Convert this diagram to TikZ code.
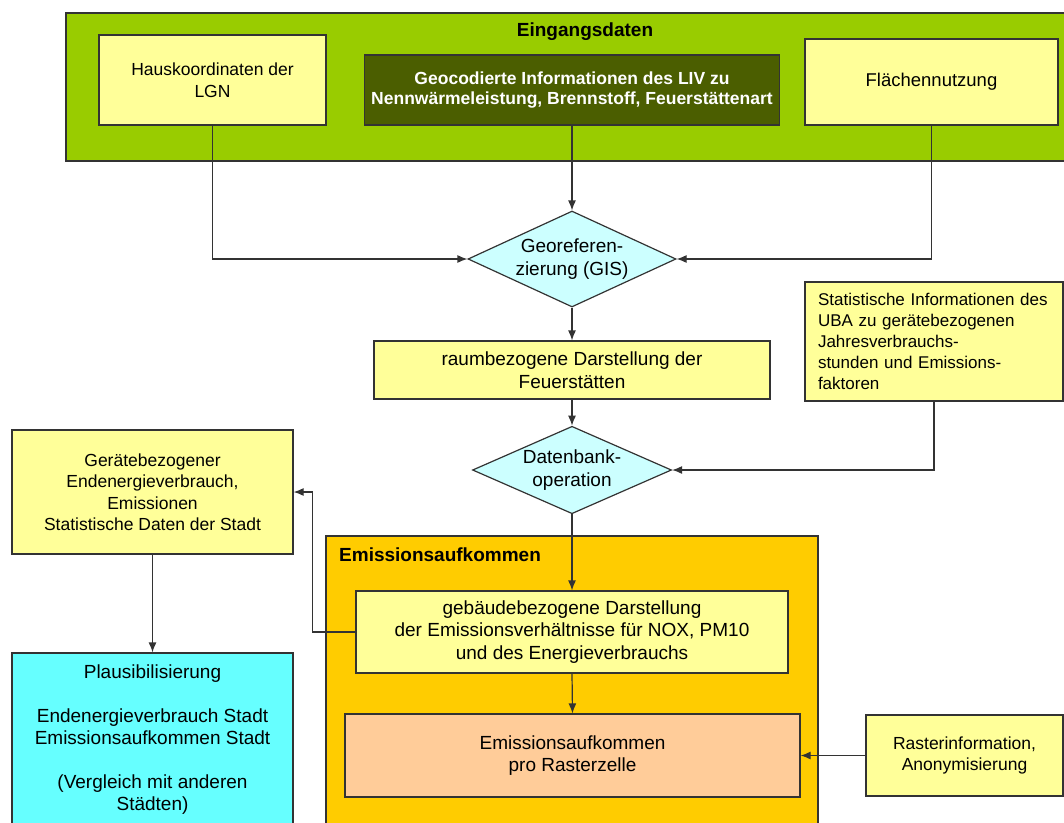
\documentclass[tikz,border=0pt]{standalone}
\usepackage{fontspec}
\setmainfont{Liberation Sans}
\usepackage{tikz}
\usetikzlibrary{positioning,shapes.geometric,arrows.meta}

\definecolor{eingangsgruen}{HTML}{99CC00}
\definecolor{livgruen}{HTML}{4B5E00}
\definecolor{hellgelb}{HTML}{FFFF99}
\definecolor{hellcyan}{HTML}{CCFFFF}
\definecolor{plausicyan}{HTML}{66FFFF}
\definecolor{emisorange}{HTML}{FFCC00}
\definecolor{pfirsich}{HTML}{FFCC99}
\definecolor{linie}{HTML}{333333}

\tikzset{
  kasten/.style={draw=linie, line width=1.2pt, fill=hellgelb, inner sep=0pt, align=center,
    font=\fontsize{17.5}{21.5}\selectfont},
  grosskasten/.style={kasten, font=\fontsize{19}{22.5}\selectfont},
  raute/.style={diamond, draw=linie, line width=1.2pt, fill=hellcyan, inner sep=0pt, aspect=2.1,
    align=center, font=\fontsize{19}{23}\selectfont},
  rahmen/.style={draw=linie, line width=1.2pt},
  titel/.style={inner sep=0pt, font=\fontsize{19}{23}\selectfont\bfseries},
  pfeil/.style={draw=linie, line width=1.2pt, -{Latex[length=10pt,width=8pt]}}
}

\begin{document}
\begin{tikzpicture}[x=1pt, y=-1pt]
      \useasboundingbox (0,0) rectangle (1064,822);
      \clip (0,0) rectangle (1064,822);
      % Rahmen
      \draw[rahmen, fill=eingangsgruen] (66,13) rectangle (1080,161);
      \draw[rahmen, fill=emisorange] (326,536) rectangle (818,840);
      \node (eingang) [titel] at (585,32) {Eingangsdaten};
      \node (emistitel) [titel, anchor=west] at (339,555) {Emissionsaufkommen};
      % Eingangsdaten
      \node (haus) [kasten, minimum width=227pt, minimum height=90pt] at (212.5,80) {Hauskoordinaten der\\LGN};
      \node (liv) [kasten, fill=livgruen, text=white, minimum width=415pt, minimum height=70pt,
            font=\fontsize{17.5}{20}\selectfont\bfseries] at (572,90)
            {Geocodierte Informationen des LIV zu\\Nennwärmeleistung, Brennstoff, Feuerstättenart};
      \node (flaeche) [kasten, minimum width=253pt, minimum height=86pt, font=\fontsize{18.5}{22}\selectfont] at (931.5,82) {Flächennutzung};
      % Verarbeitung
      \node (georef) [raute, minimum width=208pt, minimum height=96pt] at (572,259) {Georeferen-\\zierung (GIS)};
      \node (raum) [grosskasten, minimum width=396pt, minimum height=58pt] at (572,370) {raumbezogene Darstellung der\\Feuerstätten};
      \node (uba) [kasten, minimum width=258pt, minimum height=119pt, text width=232pt, align=left,
            inner xsep=13pt, font=\fontsize{17}{21}\selectfont] at (934,341.5)
            {Statistische Informationen des\\UBA zu gerätebezogenen\\Jahresverbrauchs-\\stunden und Emissions-\\faktoren};
      \node (datenbank) [raute, minimum width=199pt, minimum height=87pt] at (572,470) {Datenbank-\\operation};
      \node (geraete) [kasten, minimum width=281pt, minimum height=124pt] at (152.5,492)
            {Gerätebezogener\\Endenergieverbrauch,\\Emissionen\\Statistische Daten der Stadt};
      \node (plausi) [grosskasten, fill=plausicyan, minimum width=281pt, minimum height=174pt,
            font=\fontsize{19}{22}\selectfont] at (152.5,740)
            {Plausibilisierung\\[22pt]Endenergieverbrauch Stadt\\Emissionsaufkommen Stadt\\[22pt](Vergleich mit anderen\\Städten)};
      \node (gebaeude) [grosskasten, minimum width=432pt, minimum height=82pt] at (572,632)
            {gebäudebezogene Darstellung\\der Emissionsverhältnisse für NOX, PM10\\und des Energieverbrauchs};
      \node (rasterzelle) [grosskasten, fill=pfirsich, minimum width=455pt, minimum height=83pt] at (572.5,755.5)
            {Emissionsaufkommen\\pro Rasterzelle};
      \node (rasterinfo) [kasten, minimum width=197pt, minimum height=81pt] at (964.5,755.5)
            {Rasterinformation,\\Anonymisierung};
      % Verbindungen
      \draw[pfeil] (haus.south) |- (georef.west);
      \draw[pfeil] (liv.south) -- (georef.north);
      \draw[pfeil] (flaeche.south) |- (georef.east);
      \draw[pfeil] (georef.south) -- (raum.north);
      \draw[pfeil] (raum.south) -- (datenbank.north);
      \draw[pfeil] (uba.south) |- (datenbank.east);
      \draw[pfeil] (datenbank.south) -- (gebaeude.north);
      \draw[pfeil] (gebaeude.west) -- ++(-43,0) |- (geraete.east);
      \draw[pfeil] (geraete.south) -- (plausi.north);
      \draw[pfeil] (gebaeude.south) -- (rasterzelle.north);
      \draw[pfeil] (rasterinfo.west) -- (rasterzelle.east);
\end{tikzpicture}
\end{document}
